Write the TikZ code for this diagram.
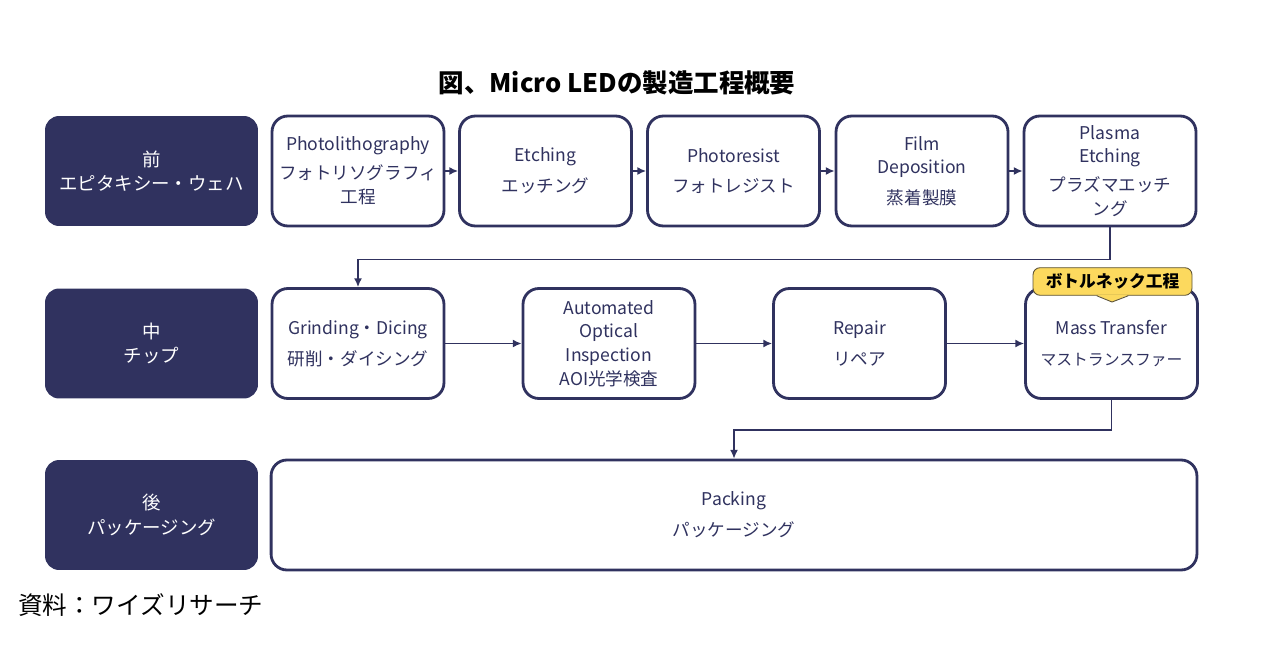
\documentclass[tikz,border=0pt]{standalone}
\usepackage{fontspec}
\setmainfont{Noto Sans CJK JP}
\usetikzlibrary{positioning}
\usetikzlibrary{arrows.meta}
\definecolor{navy}{HTML}{30325F}
\definecolor{noteyellow}{HTML}{FCD95E}
\definecolor{noteedge}{HTML}{5C5236}

\begin{document}
\begin{tikzpicture}[x=0.02cm,y=-0.02cm,
    stage/.style={fill=navy,rounded corners=8pt,minimum width=4.26cm,minimum height=2.2cm,
      text=white,align=center,font=\fontsize{10.5}{14}\selectfont},
    proc/.style={draw=navy,line width=1.6pt,fill=white,rounded corners=9pt,minimum width=3.44cm,
      minimum height=2.2cm,text=navy,align=center,font=\fontsize{10}{13.5}\selectfont},
    flow/.style={draw=navy,line width=0.8pt,-{Latex[length=5pt,width=4.5pt]}}]
    \useasboundingbox (0,0) rectangle (1280,652);
    \node[font=\bfseries\fontsize{14.5}{16}\selectfont] (title) at (617,83) {図、Micro LEDの製造工程概要};
    % front end
    \node[stage] (front) at (151.5,171) {前\\エピタキシー・ウェハ};
    \node[proc] (litho) at (358,171) {Photolithography\\[3pt]フォトリソグラフィ\\工程};
    \node[proc] (etch) at (545.5,171) {Etching\\[4pt]エッチング};
    \node[proc] (resist) at (733.5,171) {Photoresist\\[4pt]フォトレジスト};
    \node[proc] (film) at (922,171) {Film\\Deposition\\[4pt]蒸着製膜};
    \node[proc] (plasma) at (1110,171) {Plasma\\Etching\\[3pt]プラズマエッチ\\ング};
    % middle
    \node[stage] (middle) at (151.5,343.5) {中\\チップ};
    \node[proc] (grind) at (358,343.5) {Grinding・Dicing\\[4pt]研削・ダイシング};
    \node[proc] (aoi) at (609,343.5) {Automated\\Optical\\Inspection\\AOI光学検査};
    \node[proc] (repair) at (859.5,343.5) {Repair\\[4pt]リペア};
    \node[proc] (mass) at (1111.5,343.5) {Mass Transfer\\[4pt]{\fontsize{9}{12}\selectfont マストランスファー}};
    % back end
    \node[stage] (back) at (151.5,515) {後\\パッケージング};
    \node[proc,minimum width=18.52cm] (pack) at (734,515) {Packing\\[4pt]パッケージング};
    % bottleneck note
    \node[fill=noteyellow,draw=noteedge,line width=0.5pt,rounded corners=4pt,minimum width=3.18cm,
      minimum height=0.54cm,font=\bfseries\fontsize{9.5}{11}\selectfont] (neck) at (1112.5,281.5) {ボトルネック工程};
    \coordinate (tip) at (1112,302);
    \fill[noteyellow] ([xshift=-9pt,yshift=0.4pt]neck.south) -- (tip) -- ([xshift=9pt,yshift=0.4pt]neck.south) -- cycle;
    \draw[noteedge,line width=0.5pt] ([xshift=-9pt]neck.south) -- (tip) -- ([xshift=9pt]neck.south);
    % connectors
    \draw[flow] (litho) -- (etch);
    \draw[flow] (etch) -- (resist);
    \draw[flow] (resist) -- (film);
    \draw[flow] (film) -- (plasma);
    \draw[flow] (plasma.south) -- ++(0,32) -| (grind.north);
    \draw[flow] (grind) -- (aoi);
    \draw[flow] (aoi) -- (repair);
    \draw[flow] (repair) -- (mass);
    \draw[flow] (mass.south) -- ++(0,30) -| (pack.north);
    \node[anchor=west,font=\fontsize{14}{16}\selectfont] (source) at (12,605) {資料：ワイズリサーチ};
\end{tikzpicture}
\end{document}
